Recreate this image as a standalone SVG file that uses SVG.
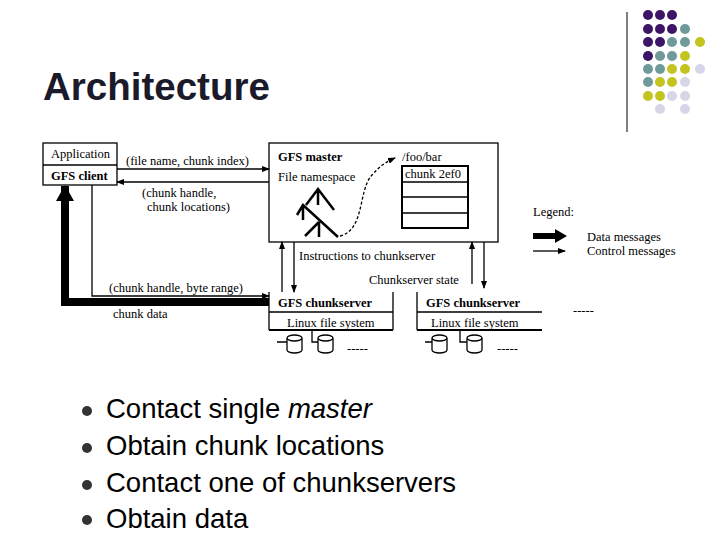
<svg xmlns="http://www.w3.org/2000/svg" width="720" height="540" viewBox="0 0 720 540">
<style>
.s{font-family:"Liberation Serif",serif;font-size:12.5px;fill:#000}
.b{font-weight:bold}
.l{stroke:#000;stroke-width:1.3;fill:none}
.t{font-family:"Liberation Sans",Arial,sans-serif;font-size:27.5px;fill:#000}
</style>
<defs>
<marker id="a" markerWidth="8" markerHeight="6" refX="7" refY="3" orient="auto" markerUnits="userSpaceOnUse"><path d="M0,0L8,3L0,6z"/></marker>
<marker id="A" markerWidth="16" markerHeight="18" refX="15" refY="9" orient="auto" markerUnits="userSpaceOnUse"><path d="M0,0L16,9L0,18z"/></marker>
</defs>
<rect width="720" height="540" fill="#fff"/>
<g id="dots">
<line x1="627" y1="12" x2="627" y2="132" stroke="#000" stroke-width="1"/>
<g fill="#3d1566"><circle cx="648" cy="15" r="5"/><circle cx="660" cy="15" r="5"/><circle cx="672" cy="15" r="5"/><circle cx="648" cy="29" r="5"/><circle cx="660" cy="29" r="5"/><circle cx="672" cy="29" r="5"/><circle cx="648" cy="42" r="5"/><circle cx="660" cy="42" r="5"/><circle cx="648" cy="56" r="5"/></g>
<g fill="#6f9a9a"><circle cx="685" cy="29" r="5"/><circle cx="672" cy="42" r="5"/><circle cx="685" cy="42" r="5"/><circle cx="660" cy="56" r="5"/><circle cx="672" cy="56" r="5"/><circle cx="648" cy="69" r="5"/><circle cx="660" cy="69" r="5"/><circle cx="648" cy="82" r="5"/></g>
<g fill="#c4c421"><circle cx="700" cy="42" r="5"/><circle cx="685" cy="56" r="5"/><circle cx="672" cy="69" r="5"/><circle cx="685" cy="69" r="5"/><circle cx="660" cy="82" r="5"/><circle cx="672" cy="82" r="5"/><circle cx="648" cy="96" r="5"/><circle cx="660" cy="96" r="5"/></g>
<g fill="#d6d6e8"><circle cx="700" cy="69" r="5"/><circle cx="685" cy="82" r="5"/><circle cx="672" cy="96" r="5"/><circle cx="685" cy="96" r="5"/><circle cx="660" cy="109" r="5"/><circle cx="685" cy="109" r="5"/></g>
</g>
<text x="43" y="100" font-family="Liberation Sans,Arial,sans-serif" font-size="38.5" font-weight="bold" fill="#1a1a2a">Architecture</text>
<g id="client">
<rect x="43" y="143" width="74" height="42" class="l"/><line x1="43" y1="165" x2="117" y2="165" class="l"/>
<text x="51" y="158" class="s">Application</text>
<text x="51" y="180" class="s b">GFS client</text>
</g>
<g id="master">
<rect x="269" y="143" width="229" height="99" class="l"/>
<text x="278" y="161" class="s b">GFS master</text>
<text x="278" y="181" class="s">File namespace</text>
<text x="402" y="161" class="s">/foo/bar</text>
<rect x="402" y="166" width="66" height="62" stroke="#000" stroke-width="2" fill="none"/>
<path d="M402,182H468M402,197H468M402,213H468" class="l"/>
<text x="405" y="178" class="s" font-size="11.5">chunk 2ef0</text>
<path d="M306,205L318,189L334,210M318,189V205M297,215L303,205L338,237M303,205V220M305,236L319,222M319,222V237" stroke="#000" stroke-width="2.5" fill="none"/>
<path d="M340,236C365,230 358,190 372,175C380,166 386,162 395,158" stroke="#000" stroke-width="1.3" stroke-dasharray="3,2" fill="none" marker-end="url(#a)"/>
</g>
<g id="cs1">
<path d="M269,292V330M393,292V330M269,312H393" class="l"/>
<line x1="269" y1="330" x2="393" y2="330" stroke="#000" stroke-width="2"/>
<text x="278" y="307" class="s b">GFS chunkserver</text>
<text x="287" y="327" class="s">Linux file system</text>
<path d="M277,342H287M312,330V342H318" class="l"/>
<path d="M287,338a7.5,3 0 0 1 15,0v12a7.5,3 0 0 1 -15,0z M287,338a7.5,3 0 0 0 15,0" class="l"/>
<path d="M318,338a7.5,3 0 0 1 15,0v12a7.5,3 0 0 1 -15,0z M318,338a7.5,3 0 0 0 15,0" class="l"/>
<text x="347" y="353" class="s">-----</text>
</g>
<g id="cs2">
<path d="M417,292V330M417,312H542" class="l"/>
<line x1="417" y1="330" x2="542" y2="330" stroke="#000" stroke-width="2"/>
<text x="426" y="307" class="s b">GFS chunkserver</text>
<text x="431" y="327" class="s">Linux file system</text>
<path d="M425,342H432M460,330V342H467" class="l"/>
<path d="M432,338a7.5,3 0 0 1 15,0v12a7.5,3 0 0 1 -15,0z M432,338a7.5,3 0 0 0 15,0" class="l"/>
<path d="M467,338a7.5,3 0 0 1 15,0v12a7.5,3 0 0 1 -15,0z M467,338a7.5,3 0 0 0 15,0" class="l"/>
<text x="497" y="353" class="s">-----</text>
</g>
<text x="573" y="315" class="s">-----</text>
<g id="connectors">
<line x1="117" y1="169" x2="269" y2="169" class="l" marker-end="url(#a)"/>
<line x1="269" y1="182" x2="117" y2="182" class="l" marker-end="url(#a)"/>
<path d="M92,185V296H269" class="l" marker-end="url(#a)"/>
<path d="M269,302H65V186" stroke="#000" stroke-width="8" fill="none" marker-end="url(#A)"/>
<line x1="282" y1="292" x2="282" y2="242" class="l" marker-end="url(#a)"/>
<line x1="294" y1="242" x2="294" y2="292" class="l" marker-end="url(#a)"/>
<line x1="472" y1="284" x2="472" y2="242" class="l" marker-end="url(#a)"/>
<line x1="484" y1="242" x2="484" y2="288" class="l" marker-end="url(#a)"/>
</g>
<g id="labels">
<text x="126" y="165" class="s">(file name, chunk index)</text>
<text x="142" y="197" class="s">(chunk handle,</text>
<text x="147" y="211" class="s">chunk locations)</text>
<text x="109" y="292" class="s">(chunk handle, byte range)</text>
<text x="113" y="318" class="s">chunk data</text>
<text x="299" y="260" class="s">Instructions to chunkserver</text>
<text x="369" y="284" class="s">Chunkserver state</text>
</g>
<g id="legend">
<text x="533" y="216" class="s">Legend:</text>
<line x1="533" y1="236" x2="555" y2="236" stroke="#000" stroke-width="6"/>
<path d="M555,229L567,236L555,243z"/>
<line x1="533" y1="251" x2="565" y2="251" class="l" marker-end="url(#a)"/>
<text x="587" y="241" class="s">Data messages</text>
<text x="587" y="255" class="s">Control messages</text>
</g>
<g id="bullets" fill="#333">
<circle cx="87" cy="411" r="5"/><circle cx="87" cy="448" r="5"/><circle cx="87" cy="485" r="5"/><circle cx="87" cy="520" r="5"/>
</g>
<text x="106" y="418" class="t">Contact single <tspan font-style="italic">master</tspan></text>
<text x="106" y="455" class="t">Obtain chunk locations</text>
<text x="106" y="492" class="t">Contact one of chunkservers</text>
<text x="106" y="528" class="t">Obtain data</text>
</svg>
